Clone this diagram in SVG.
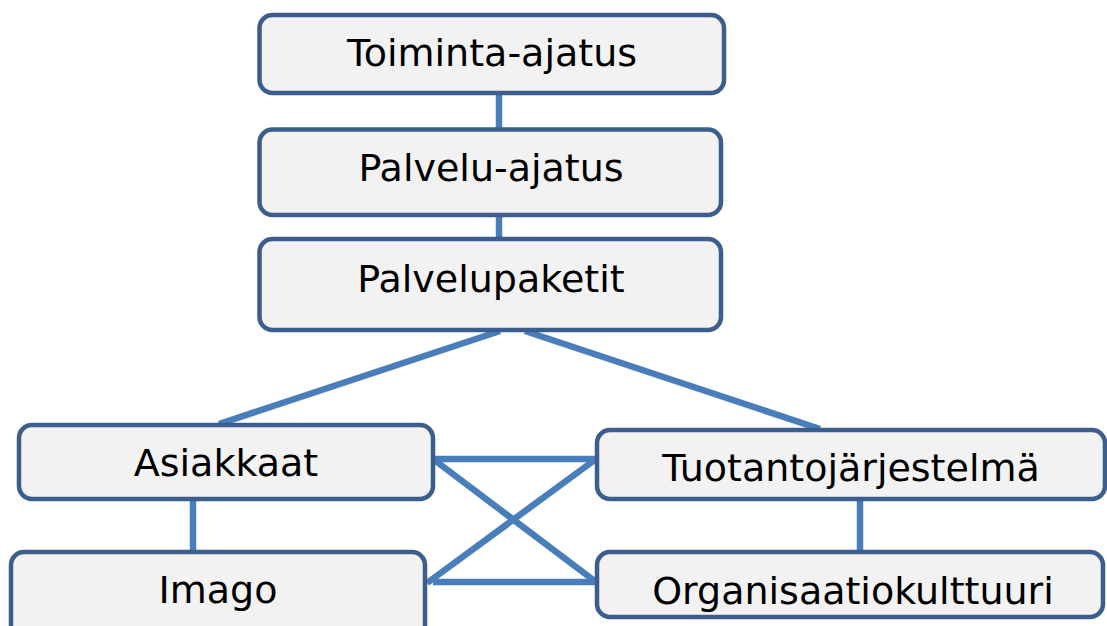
<svg xmlns="http://www.w3.org/2000/svg" width="1107" height="626" viewBox="0 0 1107 626">
<style>
.box{fill:#F2F2F2;stroke:#3B5E8C;stroke-width:4.5}
.lbl{font-family:"DejaVu Sans",Verdana,sans-serif;font-size:38px;fill:#000;text-anchor:middle}
.con{stroke:#4A7EBB;stroke-width:6.5;fill:none}
</style>
<rect width="1107" height="626" fill="#FFFFFF"/>
<g id="connectors">
<line class="con" x1="499" y1="95" x2="499" y2="128"/>
<line class="con" x1="499" y1="215" x2="499" y2="238"/>
<line class="con" x1="500" y1="331" x2="219" y2="424"/>
<line class="con" x1="525" y1="331" x2="820" y2="429"/>
<line class="con" x1="193" y1="499" x2="193" y2="552"/>
<line class="con" x1="860" y1="499" x2="860" y2="552"/>
<line class="con" x1="433" y1="459" x2="596" y2="459"/>
<line class="con" x1="433" y1="459" x2="596" y2="582"/>
<line class="con" x1="427" y1="583" x2="596" y2="459"/>
<line class="con" x1="433" y1="582" x2="596" y2="582"/>
</g>
<g id="toiminta">
<rect class="box" x="259.5" y="15" width="464.5" height="78" rx="13"/>
<text class="lbl" x="492" y="66">Toiminta-ajatus</text>
</g>
<g id="palvelu">
<rect class="box" x="259.5" y="129.5" width="461.5" height="85.5" rx="13"/>
<text class="lbl" x="491" y="181">Palvelu-ajatus</text>
</g>
<g id="palvelupaketit">
<rect class="box" x="259.5" y="239" width="461.5" height="91" rx="13"/>
<text class="lbl" x="491" y="292">Palvelupaketit</text>
</g>
<g id="asiakkaat">
<rect class="box" x="19" y="425" width="414" height="74" rx="13"/>
<text class="lbl" x="226" y="476">Asiakkaat</text>
</g>
<g id="tuotanto">
<rect class="box" x="597" y="430" width="508" height="69" rx="13"/>
<text class="lbl" x="851" y="481">Tuotantojärjestelmä</text>
</g>
<g id="imago">
<rect class="box" x="11" y="552" width="414" height="90" rx="13"/>
<text class="lbl" x="218" y="603">Imago</text>
</g>
<g id="organisaatio">
<rect class="box" x="597" y="552" width="506" height="65" rx="13"/>
<text class="lbl" x="853" y="604">Organisaatiokulttuuri</text>
</g>
</svg>
